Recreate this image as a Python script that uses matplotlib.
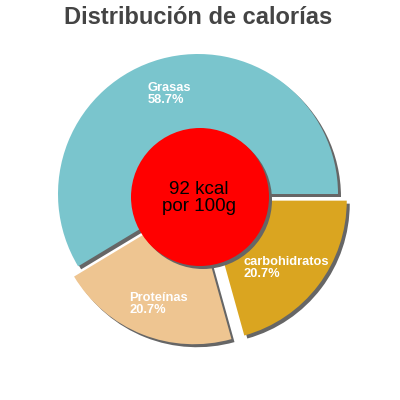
import matplotlib
matplotlib.use("Agg")
import matplotlib.pyplot as plt
from matplotlib.patches import Circle

title = "Distribución de calorías"
categories = ["Grasas", "Proteínas", "carbohidratos"]
values = [58.7, 20.7, 20.7]
pct_labels = ["58.7%", "20.7%", "20.7%"]
colors = ["#7AC5CD", "#EEC591", "#DAA520"]
center_text = "92 kcal\npor 100g"

H = 400
fig = plt.figure(figsize=(4, 4), dpi=100)
ax = fig.add_axes([0, 0, 1, 1])

cx, cy, R = 198, H - 194, 140
explode = [0, 11, 11]
shadow = "#666666"

# shadow
ax.pie(values, colors=[shadow] * 3, startangle=0, counterclock=True,
       radius=R, center=(cx + 3, cy - 3), explode=explode,
       wedgeprops=dict(linewidth=0), frame=True)
# pie
ax.pie(values, colors=colors, startangle=0, counterclock=True,
       radius=R, center=(cx, cy), explode=explode,
       wedgeprops=dict(linewidth=0), frame=True)

# center circle
ax.add_patch(Circle((cx + 2 + 3, H - 197 - 3), 69, color=shadow, lw=0, zorder=5))
ax.add_patch(Circle((cx + 2, H - 197), 69, color="#FF0000", lw=0, zorder=6))
ax.text(cx + 1, H - 198, center_text, ha="center", va="center", fontsize=13.5,
        family="Liberation Sans", color="black", linespacing=1.0, zorder=7)

label_pos = [(148, 91), (129, 301), (243, 265)]
for name, pct, (px, py) in zip(categories, pct_labels, label_pos):
    ax.text(px, H - py, name, ha="left", va="baseline", fontsize=9.3,
            family="Liberation Sans", weight="bold", color="white", zorder=8)
    ax.text(px, H - py - 12, pct, ha="left", va="baseline", fontsize=9.3,
            family="Liberation Sans", weight="bold", color="white", zorder=8)

ax.text(198, H - 24, title, ha="center", va="baseline", fontsize=17,
        family="Liberation Sans", weight="bold", color="#444444")

ax.set_xlim(0, 400)
ax.set_ylim(0, 400)
ax.set_aspect("auto")
ax.axis("off")
fig.savefig("out.png", dpi=100)
